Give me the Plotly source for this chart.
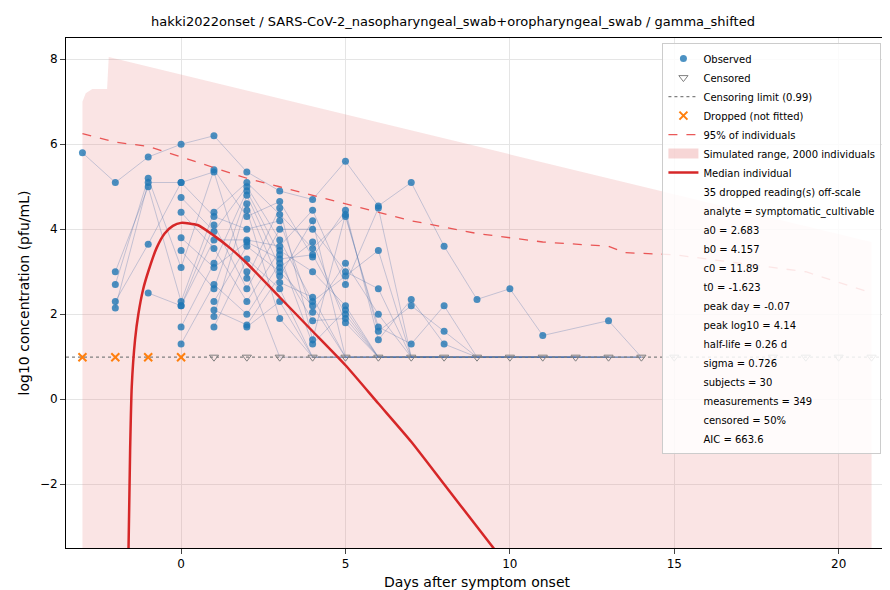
import plotly.graph_objects as go

# observed log10 concentrations per day after symptom onset
obs = {
    -3: [5.8],
    -2: [5.1, 3.0, 2.7, 2.3, 2.15],
    -1: [5.7, 5.2, 5.1, 5.0, 3.65, 2.5],
    0: [6.0, 5.1, 5.1, 4.75, 4.4, 3.8, 3.5, 3.1, 2.3, 2.2, 2.2, 1.7, 1.3],
    1: [6.2, 5.4, 5.35, 4.4, 4.3, 4.1, 3.95, 3.75, 3.55, 3.2, 3.1, 2.7, 2.6, 2.3, 2.1, 1.95, 1.7],
    2: [5.35, 5.1, 5.0, 4.9, 4.8, 4.6, 4.45, 4.3, 4.0, 3.75, 3.7, 3.6, 3.3, 3.0, 2.85, 2.6, 2.3, 2.0, 1.75, 1.7],
    3: [4.9, 4.65, 4.5, 4.35, 4.2, 4.0, 3.75, 3.6, 3.5, 3.4, 3.3, 3.2, 3.1, 3.0, 2.9, 2.75, 2.6, 2.3, 1.9],
    4: [4.7, 4.45, 4.2, 4.0, 3.7, 3.55, 3.4, 3.35, 3.0, 2.4, 2.3, 2.2, 2.05, 1.85, 1.4, 1.3],
    5: [5.6, 4.45, 4.35, 4.3, 3.2, 3.0, 2.9, 2.7, 2.2, 2.1, 2.0, 1.9, 1.8],
    6: [4.55, 4.5, 3.5, 2.6, 2.0, 1.7, 1.6, 1.4],
    7: [5.1, 2.35, 2.2, 1.3],
    8: [3.6, 2.2, 1.6, 1.3],
    9: [2.35],
    10: [2.6],
    11: [1.5],
    13: [1.85],
}
limit = 0.99
cens_days = [1, 2, 3, 4, 5, 6, 7, 8, 9, 10, 11, 12, 13, 14, 15, 18, 19, 20, 21]
dropped_days = [-3, -2, -1, 0]

band_x = [-3, -2.9, -2.7, -2.5, -2.25, -2.2, 21, 21, -3]
band_y = [7.0, 7.2, 7.3, 7.3, 7.3, 8.05, 3.7, -3.6, -3.6]

p95_x = [-3, -2.5, -2, -1, 0, 1, 2, 3, 4, 5, 6, 7, 8, 9, 10, 11, 12, 13, 13.5, 15, 17, 19, 21]
p95_y = [6.25, 6.15, 6.05, 5.95, 5.7, 5.45, 5.2, 5.0, 4.8, 4.6, 4.4, 4.2, 4.05, 3.9, 3.8, 3.7, 3.65, 3.6, 3.45, 3.4, 3.2, 3.0, 2.5]

med_x = [-1.6, -1.55, -1.5, -1.4, -1.3, -1.15, -1.0, -0.75, -0.5, -0.25, 0, 0.5, 1, 1.5, 2, 3, 4, 5, 6, 7, 8, 9, 9.6]
med_y = [-3.6, -1.2, 0.3, 1.4, 2.0, 2.6, 3.0, 3.55, 3.9, 4.08, 4.15, 4.1, 3.85, 3.55, 3.2, 2.4, 1.6, 0.8, -0.1, -1.0, -2.0, -3.0, -3.6]

info = [
    "35 dropped reading(s) off-scale", "analyte = symptomatic_cultivable",
    "a0 = 2.683", "b0 = 4.157", "c0 = 11.89", "t0 = -1.623",
    "peak day = -0.07", "peak log10 = 4.14", "half-life = 0.26 d",
    "sigma = 0.726", "subjects = 30", "measurements = 349",
    "censored = 50%", "AIC = 663.6",
]

fig = go.Figure()
fig.add_trace(go.Scatter(x=band_x, y=band_y, mode="lines", line=dict(width=0), fill="toself",
                         fillcolor="rgba(230,120,120,0.2)", showlegend=False, hoverinfo="skip"))

# subject trajectories: pair readings by rank across days
days = sorted(obs)
for k in range(30):
    xs, ys = [], []
    for i, d in enumerate(days):
        vals = obs[d]
        j = k if i % 2 == 0 else (k * 7) % max(len(vals), 1)
        if k < len(vals):
            xs.append(d)
            ys.append(vals[j if j < len(vals) else k])
    if xs:
        last = xs[-1]
        for d in cens_days[:14]:
            if last < d <= last + 3 + k % 8:
                xs.append(d)
                ys.append(limit)
    fig.add_trace(go.Scatter(x=xs, y=ys, mode="lines", line=dict(color="rgba(70,110,170,0.3)", width=1),
                             showlegend=False, hoverinfo="skip"))

ox = [d for d in days for v in obs[d]]
oy = [v for d in days for v in obs[d]]
fig.add_trace(go.Scatter(x=ox, y=oy, mode="markers", name="Observed",
                         marker=dict(color="rgba(31,119,180,0.8)", size=7)))
fig.add_trace(go.Scatter(x=cens_days, y=[limit] * len(cens_days), mode="markers", name="Censored",
                         marker=dict(symbol="triangle-down-open", color="gray", size=8)))
fig.add_trace(go.Scatter(x=[-3.5, 21.5], y=[limit, limit], mode="lines", name="Censoring limit (0.99)",
                         line=dict(color="gray", dash="dot", width=1.3)))
fig.add_trace(go.Scatter(x=dropped_days, y=[limit] * len(dropped_days), mode="markers",
                         name="Dropped (not fitted)", marker=dict(symbol="x-thin-open", color="#ff7f0e",
                                                                  size=8, line=dict(width=2, color="#ff7f0e"))))
fig.add_trace(go.Scatter(x=p95_x, y=p95_y, mode="lines", name="95% of individuals",
                         line=dict(color="rgba(230,60,60,0.85)", dash="dash", width=1.3)))
fig.add_trace(go.Scatter(x=[None], y=[None], mode="lines", name="Simulated range, 2000 individuals",
                         line=dict(color="rgba(230,120,120,0.3)", width=10)))
fig.add_trace(go.Scatter(x=med_x, y=med_y, mode="lines", line_shape="spline", name="Median individual",
                         line=dict(color="#d62728", width=2.5, smoothing=0.6)))
for t in info:
    fig.add_trace(go.Scatter(x=[None], y=[None], mode="lines", name=t, line=dict(width=0)))

fig.update_layout(
    width=890, height=590, plot_bgcolor="white", paper_bgcolor="white",
    margin=dict(l=58, r=10, t=30, b=50),
    font=dict(family="DejaVu Sans", size=12, color="black"),
    title=dict(text="hakki2022onset / SARS-CoV-2_nasopharyngeal_swab+oropharyngeal_swab / gamma_shifted",
               x=0.5, y=0.985, font=dict(size=13)),
    legend=dict(x=0.992, y=0.99, xanchor="right", yanchor="top", bgcolor="rgba(255,255,255,0.85)",
                bordercolor="#ccc", borderwidth=1, font=dict(size=10), tracegroupgap=0,
                itemwidth=30, traceorder="normal"),
)
fig.update_xaxes(range=[-3.5, 21.5], tickvals=[0, 5, 10, 15, 20], showgrid=True, gridcolor="#e5e5e5",
                 zeroline=False, showline=True, linecolor="black", mirror=True, ticks="outside",
                 title=dict(text="Days after symptom onset", standoff=6))
fig.update_yaxes(range=[-3.5, 8.5], tickvals=[-2, 0, 2, 4, 6, 8], showgrid=True, gridcolor="#e5e5e5",
                 zeroline=False, showline=True, linecolor="black", mirror=True, ticks="outside",
                 title=dict(text="log10 concentration (pfu/mL)", standoff=6))
fig.write_html("out.html")
